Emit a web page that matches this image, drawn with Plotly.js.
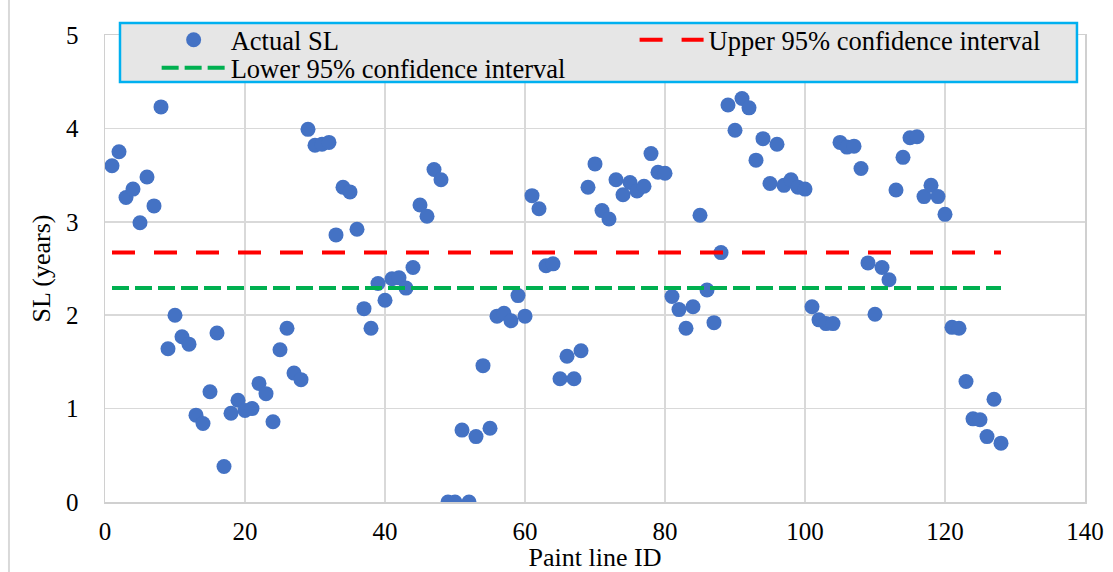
<!DOCTYPE html>
<html>
<head>
<meta charset="utf-8">
<script src="https://cdn.plot.ly/plotly-3.0.1.min.js"></script>
<style>html,body{margin:0;padding:0;background:#fff;}#chart{width:1113px;height:572px;}</style>
</head>
<body>
<div id="chart"></div>
<script>
// Paint line IDs
const paintLineId = [1,2,3,4,5,6,7,8,9,10,11,12,13,14,15,16,17,18,19,20,
  21,22,23,24,25,26,27,28,29,30,31,32,33,34,35,36,37,38,39,40,
  41,42,43,44,45,46,47,48,49,50,51,52,53,54,55,56,57,58,59,60,
  61,62,63,64,65,66,67,68,69,70,71,72,73,74,75,76,77,78,79,80,
  81,82,83,84,85,86,87,88,89,90,91,92,93,94,95,96,97,98,99,100,
  101,102,103,104,105,106,107,108,109,110,111,112,113,114,115,116,117,118,119,120,
  121,122,123,124,125,126,127,128];
// Actual service life (years)
const actualSL = [3.60,3.75,3.26,3.35,2.99,3.48,3.17,4.23,1.64,2.00,
  1.77,1.69,0.93,0.84,1.18,1.81,0.38,0.95,1.09,0.98,
  1.00,1.27,1.16,0.86,1.63,1.86,1.38,1.31,3.99,3.82,
  3.83,3.85,2.86,3.37,3.32,2.92,2.07,1.86,2.34,2.16,
  2.39,2.40,2.29,2.51,3.18,3.06,3.56,3.45,0.00,0.00,
  0.77,0.00,0.70,1.46,0.79,1.99,2.02,1.94,2.21,1.99,
  3.28,3.14,2.53,2.55,1.32,1.56,1.32,1.62,3.37,3.62,
  3.12,3.03,3.45,3.29,3.42,3.33,3.38,3.73,3.53,3.52,
  2.20,2.06,1.86,2.09,3.07,2.27,1.92,2.67,4.25,3.98,
  4.32,4.22,3.66,3.89,3.41,3.83,3.39,3.45,3.37,3.35,
  2.09,1.95,1.91,1.91,3.85,3.80,3.81,3.57,2.56,2.01,
  2.51,2.38,3.34,3.69,3.90,3.91,3.27,3.39,3.27,3.08,
  1.87,1.86,1.29,0.89,0.88,0.70,1.10,0.63];
// Confidence interval bounds
const ciX = [1, 128];
const upperCI = [2.67, 2.67];
const lowerCI = [2.29, 2.29];
const xTicks = [0,20,40,60,80,100,120,140];
const yTicks = [0,1,2,3,4,5];

const serif = 'Liberation Serif, Times New Roman, serif';

const traces = [
  {x: paintLineId, y: actualSL, type: 'scatter', mode: 'markers', name: 'Actual SL',
   marker: {color: '#4472C4', size: 15}, legend: 'legend'},
  {x: ciX, y: upperCI, type: 'scatter', mode: 'lines', name: 'Upper 95% confidence interval',
   line: {color: '#FF0000', width: 4, dash: '23px,19px'}, legend: 'legend3'},
  {x: ciX, y: lowerCI, type: 'scatter', mode: 'lines', name: 'Lower 95% confidence interval',
   line: {color: '#00B050', width: 4, dash: '17px,6px'}, legend: 'legend2'}
];

const legendFont = {family: serif, size: 26.5, color: '#000'};
function legendAt(x, y) {
  return {orientation: 'h', x: x, y: y, xanchor: 'left', yanchor: 'top',
    bgcolor: 'rgba(0,0,0,0)', borderwidth: 0, font: legendFont, itemwidth: 64};
}

const layout = {
  width: 1113, height: 572,
  margin: {l: 105, r: 28, t: 35, b: 70},
  paper_bgcolor: '#ffffff', plot_bgcolor: '#ffffff',
  font: {family: serif, size: 25, color: '#000'},
  showlegend: true,
  legend: legendAt(0.0527, 1.0407),
  legend2: legendAt(0.0527, 0.9807),
  legend3: legendAt(0.5404, 1.0407),
  xaxis: {
    range: [0, 140], tickvals: xTicks, ticktext: xTicks.map(String),
    showgrid: true, gridcolor: '#d9d9d9', gridwidth: 1.5, zeroline: false,
    showline: true, linecolor: '#d0d0d0', linewidth: 1.5, mirror: true,
    ticks: '', ticklabelstandoff: 6,
    tickfont: {family: serif, size: 25, color: '#000'},
    title: {text: 'Paint line ID', font: {family: serif, size: 26, color: '#000'}, standoff: 9}
  },
  yaxis: {
    range: [0, 5], tickvals: yTicks, ticktext: yTicks.map(String),
    showgrid: true, gridcolor: '#d9d9d9', gridwidth: 1.5, zeroline: false,
    showline: true, linecolor: '#d0d0d0', linewidth: 1.5, mirror: true,
    ticks: '', ticklabelstandoff: 20,
    tickfont: {family: serif, size: 25, color: '#000'},
    title: {text: 'SL (years)', font: {family: serif, size: 26, color: '#000'}, standoff: 8}
  },
  shapes: [
    {type: 'rect', xref: 'paper', yref: 'paper', x0: 0.0153, x1: 0.9918, y0: 0.8994, y1: 1.0257,
     fillcolor: '#e6e6e6', line: {color: '#00B0F0', width: 2.5}, layer: 'above'},
    {type: 'line', xref: 'paper', yref: 'paper', x0: -0.0980, x1: -0.0980, y0: -0.2, y1: 1.2,
     line: {color: '#d9d9d9', width: 2}}
  ]
};

Plotly.newPlot('chart', traces, layout, {displayModeBar: false, staticPlot: true});
</script>
</body>
</html>
